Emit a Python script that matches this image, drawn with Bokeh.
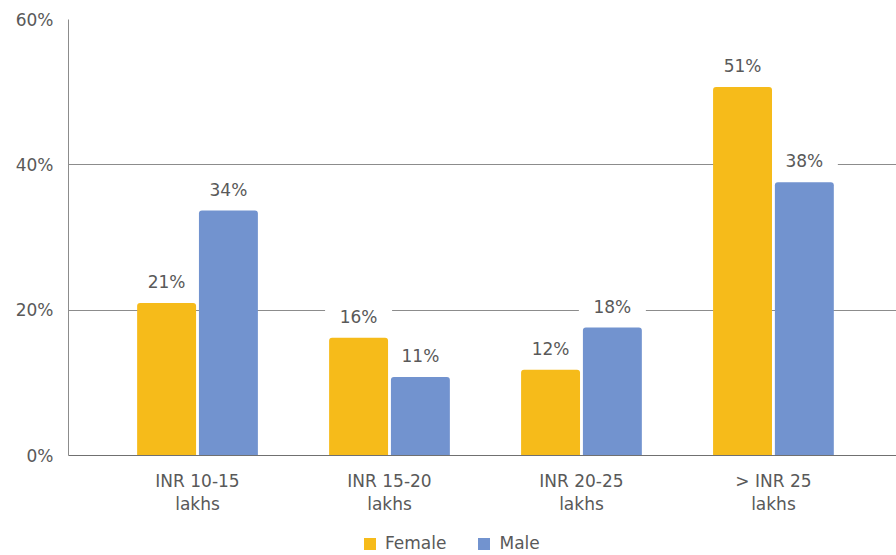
from bokeh.plotting import figure
from bokeh.layouts import column
from bokeh.models import ColumnDataSource, LabelSet, FixedTicker, PrintfTickFormatter, Range1d, Legend, LegendItem
from bokeh.core.properties import value
from bokeh.embed import file_html
from bokeh.resources import INLINE

categories = ["INR 10-15\nlakhs", "INR 15-20\nlakhs", "INR 20-25\nlakhs", "> INR 25\nlakhs"]
female = [21.0, 16.2, 11.8, 50.7]
male = [33.7, 10.8, 17.6, 37.6]
series_names = ["Female", "Male"]
y_ticks = [0, 20, 40, 60]

FONT = "DejaVu Sans"
FS = "17px"
TXT = "#595959"
C_F = "#F6BB1A"
C_M = "#7293CF"

idx = list(range(len(categories)))
off = 0.161
bw = 0.307
Y_MAX = 60
FRAME_H = 436
LABEL_LIFT = 21 * Y_MAX / FRAME_H  # 21 px above bar top, in data units

src_f = ColumnDataSource(dict(x=[i - off for i in idx], top=female,
                              ly=[v + LABEL_LIFT for v in female],
                              lab=[f"{round(v)}%" for v in female]))
src_m = ColumnDataSource(dict(x=[i + off for i in idx], top=male,
                              ly=[v + LABEL_LIFT for v in male],
                              lab=[f"{round(v)}%" for v in male]))

p = figure(width=896, height=525, output_backend="svg", toolbar_location=None,
           x_range=Range1d(-0.672, 3.641), y_range=Range1d(0, Y_MAX),
           min_border_left=68, min_border_right=0, min_border_top=19, min_border_bottom=70)
p.outline_line_color = None
p.background_fill_color = "white"
p.border_fill_color = "white"

# white boxes behind value labels (cover grid lines)
for src in (src_f, src_m):
    p.rect(x="x", y="ly", width=67, height=20, width_units="screen", height_units="screen",
           source=src, fill_color="white", line_color=None)

p.vbar(x="x", top="top", width=bw, source=src_f, fill_color=C_F, line_color=None,
       border_radius=(3, 3, 0, 0))
p.vbar(x="x", top="top", width=bw, source=src_m, fill_color=C_M, line_color=None,
       border_radius=(3, 3, 0, 0))

for src in (src_f, src_m):
    ls = LabelSet(x="x", y="ly", text="lab", source=src,
                  text_align="center", text_baseline="middle",
                  text_font=value(FONT), text_font_size=value(FS), text_color=TXT)
    p.add_layout(ls)

# axes
p.yaxis.ticker = FixedTicker(ticks=y_ticks)
p.yaxis.formatter = PrintfTickFormatter(format="%d%%")
p.yaxis.major_tick_line_color = None
p.yaxis.minor_tick_line_color = None
p.yaxis.major_tick_out = 0
p.yaxis.minor_tick_out = 0
p.yaxis.axis_line_color = "#8c8c8c"
p.yaxis.major_label_standoff = 15
p.yaxis.major_label_text_font = FONT
p.yaxis.major_label_text_font_size = FS
p.yaxis.major_label_text_color = TXT

p.xaxis.ticker = FixedTicker(ticks=idx)
p.xaxis.major_label_overrides = {i: c for i, c in zip(idx, categories)}
p.xaxis.major_tick_line_color = None
p.xaxis.minor_tick_line_color = None
p.xaxis.major_tick_out = 0
p.xaxis.minor_tick_out = 0
p.xaxis.axis_line_color = "#707070"
p.xaxis.major_label_standoff = 15
p.xaxis.major_label_text_font = FONT
p.xaxis.major_label_text_font_size = FS
p.xaxis.major_label_text_color = TXT
p.xaxis.major_label_text_line_height = 1.19

p.xgrid.grid_line_color = None
p.ygrid.ticker = FixedTicker(ticks=y_ticks)
p.ygrid.grid_line_color = "#8c8c8c"

# legend strip below the chart (its frame is aligned with the main frame)
pl = figure(width=896, height=30, output_backend="svg", toolbar_location=None,
            x_range=Range1d(-0.672, 3.641), y_range=Range1d(1000, 1001),
            min_border_left=68, min_border_right=0, min_border_top=0, min_border_bottom=0)
pl.axis.visible = False
pl.grid.visible = False
pl.outline_line_color = None
lf = pl.vbar(x="x", top="top", width=bw, source=src_f, fill_color=C_F, line_color=None)
lm = pl.vbar(x="x", top="top", width=bw, source=src_m, fill_color=C_M, line_color=None)
legend = Legend(items=[LegendItem(label=series_names[0], renderers=[lf]),
                       LegendItem(label=series_names[1], renderers=[lm])],
                location=(294, 2), orientation="horizontal",
                glyph_width=15, glyph_height=15, label_height=15,
                label_standoff=8, spacing=30, padding=0, margin=0,
                label_text_font=FONT, label_text_font_size=FS, label_text_color=TXT,
                border_line_color=None, background_fill_alpha=0)
pl.add_layout(legend, "center")

layout = column(p, pl, spacing=0)
open("out.html", "w").write(file_html(layout, INLINE))
